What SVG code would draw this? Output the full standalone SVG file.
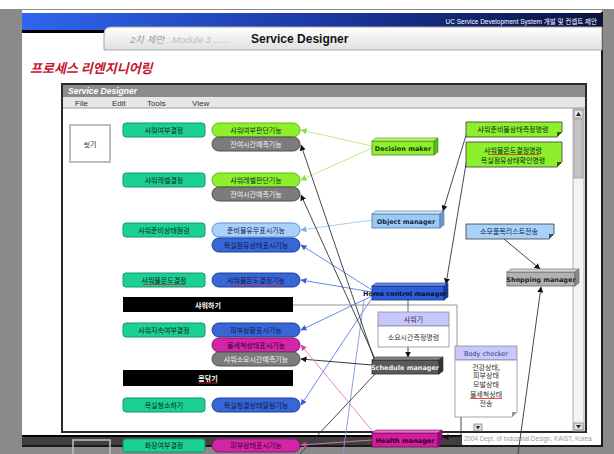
<svg xmlns="http://www.w3.org/2000/svg" width="614" height="454" viewBox="0 0 614 454">
<defs>
<style>
.k{font-family:"Noto Sans CJK KR","Noto Sans",sans-serif;font-size:7px;text-anchor:middle}
.en{font-family:"DejaVu Sans","Liberation Sans",sans-serif;font-weight:bold;font-size:6.5px;text-anchor:middle}
.teal{fill:#1ccf94;stroke:#0f9a68;stroke-width:1}
.lime{fill:#8eef2c;stroke:#5cb818;stroke-width:1}
.gry{fill:#7c7c7c;stroke:#505050;stroke-width:1}
.lbl{fill:#a9d2fa;stroke:#5d8fd0;stroke-width:1}
.blu{fill:#3766d6;stroke:#1f3f9a;stroke-width:1}
.mag{fill:#d424a8;stroke:#8e1470;stroke-width:1}
.dk{fill:#0c2a1e}
.wt{fill:#f2f2f2}
.nv{fill:#0c1a4a}
.spell{stroke:#e02828;stroke-width:0.8}
.cn{fill:none;stroke-width:0.9}
.note{stroke:#3a3a3a;stroke-width:0.8}
</style>
<linearGradient id="hdr" x1="0" x2="1" y1="0" y2="0">
<stop offset="0" stop-color="#2f66ee"/>
<stop offset="0.5" stop-color="#1b3aa6"/>
<stop offset="1" stop-color="#0a1240"/>
</linearGradient>
<linearGradient id="tab" x1="0" x2="0" y1="0" y2="1">
<stop offset="0" stop-color="#ffffff"/>
<stop offset="1" stop-color="#e0e0e0"/>
</linearGradient>
<marker id="ah-k" viewBox="0 0 6 6" refX="5.5" refY="3" markerWidth="6" markerHeight="6" orient="auto" markerUnits="userSpaceOnUse"><path d="M0,0 L6,3 L0,6 z" fill="#111"/></marker>
<marker id="ah-g" viewBox="0 0 6 6" refX="5.5" refY="3" markerWidth="6" markerHeight="6" orient="auto" markerUnits="userSpaceOnUse"><path d="M0,0 L6,3 L0,6 z" fill="#8edc3c"/></marker>
<marker id="ah-lb" viewBox="0 0 6 6" refX="5.5" refY="3" markerWidth="6" markerHeight="6" orient="auto" markerUnits="userSpaceOnUse"><path d="M0,0 L6,3 L0,6 z" fill="#7fb0e8"/></marker>
<marker id="ah-b" viewBox="0 0 6 6" refX="5.5" refY="3" markerWidth="6" markerHeight="6" orient="auto" markerUnits="userSpaceOnUse"><path d="M0,0 L6,3 L0,6 z" fill="#3a5fd0"/></marker>
<marker id="ah-p" viewBox="0 0 6 6" refX="5.5" refY="3" markerWidth="6" markerHeight="6" orient="auto" markerUnits="userSpaceOnUse"><path d="M0,0 L6,3 L0,6 z" fill="#d04aa8"/></marker>
</defs>

<!-- page backdrop and slide -->
<rect width="614" height="454" fill="#8a8a8a"/>
<rect width="614" height="9" fill="#ffffff"/>
<rect x="22" y="10" width="580" height="436" fill="#ffffff"/>
<line x1="602" y1="12" x2="602" y2="447" stroke="#1a1a1a" stroke-width="2"/>
<rect x="22" y="13" width="580" height="17" fill="url(#hdr)"/>
<text x="597" y="23.5" font-family="Liberation Sans, Noto Sans CJK KR, sans-serif" font-size="6.5" fill="#ffffff" text-anchor="end">UC Service Development System 개발 및 컨셉트 제안</text>
<rect x="22" y="30" width="84" height="3" fill="#000"/>
<path d="M104,50 L104,34 Q104,27 111,27 L602,27 L602,50 Z" fill="url(#tab)" stroke="#a8a8a8" stroke-width="1"/>
<text x="130" y="43" font-family="Liberation Sans, Noto Sans CJK KR, sans-serif" font-size="9.5" font-style="italic" fill="#9a9a9a">2차 제안 <tspan fill="#bdbdbd"> : Module 3 ......</tspan></text>
<text x="251" y="43" font-family="Liberation Sans, sans-serif" font-size="12" font-weight="bold" fill="#151515">Service Designer</text>
<text x="30" y="73" font-family="Noto Sans CJK KR, sans-serif" font-size="13" font-weight="bold" font-style="italic" fill="#c4162c">프로세스 리엔지니어링</text>

<!-- application window -->
<rect x="62" y="84" width="524" height="348" fill="#ffffff" stroke="#2a2a2a" stroke-width="2"/>
<rect x="63" y="85" width="522" height="12" fill="#8c8c8c"/>
<text x="68" y="94" font-family="Liberation Sans, sans-serif" font-size="8.5" font-weight="bold" font-style="italic" fill="#ffffff">Service Designer</text>
<rect x="63" y="97" width="522" height="11" fill="#e6e6e6"/>
<line x1="63" y1="108" x2="585" y2="108" stroke="#9a9a9a" stroke-width="1"/>
<g font-family="Liberation Sans, sans-serif" font-size="8" fill="#333">
<text x="75" y="105.5">File</text>
<text x="112" y="105.5">Edit</text>
<text x="147" y="105.5">Tools</text>
<text x="192" y="105.5">View</text>
</g>
<!-- scrollbar -->
<rect x="573" y="109" width="11" height="322" fill="#f3f3f3" stroke="#999" stroke-width="0.8"/>
<rect x="574" y="110" width="9" height="8" fill="#e2e2e2" stroke="#666" stroke-width="0.6"/>
<path d="M578.5,112 L576,116 L581,116 Z" fill="#222"/>
<rect x="574" y="119" width="9" height="59" fill="#c4c4c4" stroke="#888" stroke-width="0.6"/>
<rect x="574" y="423" width="9" height="7" fill="#e2e2e2" stroke="#666" stroke-width="0.6"/>
<path d="M576,425 L581,425 L578.5,428.5 Z" fill="#222"/>
<rect x="474" y="424" width="8" height="7" fill="#e2e2e2" stroke="#666" stroke-width="0.6"/>
<path d="M476,426 L480,426 L478,429.5 Z" fill="#222"/>

<!-- lower strip of the slide -->
<rect x="22" y="435" width="440" height="2" fill="#000"/>
<rect x="22" y="437" width="440" height="10" fill="#404040"/>
<rect x="22" y="445" width="580" height="2" fill="#1a1a1a"/>
<rect x="73" y="440" width="37" height="16" fill="none" stroke="#c0c0c0" stroke-width="1.5"/>
<text x="464" y="440.5" font-family="Liberation Sans, sans-serif" font-size="6.3" fill="#9a9a9a">2004 Dept. of Industrial Design, KAIST, Korea</text>

<!-- connectors -->
<g id="connectors">
<line class="cn" x1="372" y1="146" x2="301" y2="130" stroke="#b4ee74" marker-end="url(#ah-g)"/>
<line class="cn" x1="372" y1="148" x2="301" y2="180" stroke="#b4ee74" marker-end="url(#ah-g)"/>
<line class="cn" x1="372" y1="220" x2="301" y2="230" stroke="#9cc6f0" marker-end="url(#ah-lb)"/>
<line class="cn" x1="372" y1="290" x2="301" y2="245" stroke="#5a7ee0" marker-end="url(#ah-b)"/>
<line class="cn" x1="372" y1="292" x2="301" y2="280" stroke="#5a7ee0" marker-end="url(#ah-b)"/>
<line class="cn" x1="372" y1="296" x2="301" y2="330" stroke="#5a7ee0" marker-end="url(#ah-b)"/>
<line class="cn" x1="372" y1="298" x2="301" y2="405" stroke="#5a7ee0" marker-end="url(#ah-b)"/>
<line class="cn" x1="364" y1="300" x2="343" y2="454" stroke="#7f98d8"/>
<line class="cn" x1="374" y1="359" x2="301" y2="145" stroke="#333" marker-end="url(#ah-k)"/>
<line class="cn" x1="376" y1="361" x2="301" y2="195" stroke="#333" marker-end="url(#ah-k)"/>
<line class="cn" x1="372" y1="365" x2="301" y2="359" stroke="#222" marker-end="url(#ah-k)"/>
<line class="cn" x1="376" y1="373" x2="300" y2="454" stroke="#333"/>
<line class="cn" x1="467" y1="132" x2="443" y2="211" stroke="#333" marker-end="url(#ah-k)"/>
<line class="cn" x1="467" y1="158" x2="446" y2="284" stroke="#333" marker-end="url(#ah-k)"/>
<line class="cn" x1="504" y1="239" x2="540" y2="269" stroke="#333" marker-end="url(#ah-k)"/>
<line class="cn" x1="518" y1="454" x2="541" y2="287" stroke="#333" marker-end="url(#ah-k)"/>
<polyline class="cn" points="293,305 457,305 457,350" stroke="#8a8a8a"/>
<line class="cn" x1="408" y1="300" x2="408" y2="312" stroke="#555"/>
<line class="cn" x1="408" y1="347" x2="408" y2="357" stroke="#222" marker-end="url(#ah-k)"/>
<polyline class="cn" points="461,417 461,437 443,437" stroke="#333" marker-end="url(#ah-k)"/>
<line class="cn" x1="374" y1="433" x2="301" y2="345" stroke="#e07cc4" marker-end="url(#ah-p)"/>
<line class="cn" x1="372" y1="440" x2="301" y2="445" stroke="#e07cc4" marker-end="url(#ah-p)"/>
</g>

<!-- process box -->
<g id="wash">
<rect x="70" y="125" width="40" height="37" fill="#ffffff" stroke="#bdbdbd" stroke-width="2"/>
<text class="k" x="90" y="146.5" font-size="8" fill="#222">씻기</text>
</g>

<!-- decision steps -->
<g id="step-shower-yn"><rect class="teal" x="123" y="123" width="82" height="14" rx="3"/><text class="k dk" x="164" y="132.5">샤워여부결정</text></g>
<g id="step-shower-level"><rect class="teal" x="123" y="173" width="82" height="14" rx="3"/><text class="k dk" x="164" y="182.5">샤워레벨결정</text></g>
<g id="step-prep-check"><rect class="teal" x="123" y="223" width="82" height="14" rx="3"/><text class="k dk" x="164" y="232.5">샤워준비상태점검</text></g>
<g id="step-water-temp"><rect class="teal" x="123" y="273" width="82" height="14" rx="3"/><text class="k dk" x="164" y="282.5">샤워물온도결정</text><line class="spell" x1="143" y1="284.5" x2="185" y2="284.5"/></g>
<g id="step-continue"><rect class="teal" x="123" y="323" width="82" height="14" rx="3"/><text class="k dk" x="164" y="332.5">샤워지속여부결정</text></g>
<g id="step-bath-clean"><rect class="teal" x="123" y="398" width="82" height="14" rx="3"/><text class="k dk" x="164" y="407.5">욕실청소하기</text></g>
<g id="step-makeup"><rect class="teal" x="123" y="439" width="82" height="13" rx="3"/><text class="k dk" x="164" y="448">화장여부결정</text></g>

<!-- activity bars -->
<g id="bar-shower"><rect x="123" y="297" width="170" height="15" fill="#000"/><text class="k" x="208" y="307.5" fill="#fff" font-weight="bold">샤워하기</text></g>
<g id="bar-dry"><rect x="123" y="370" width="170" height="16" fill="#000"/><text class="k" x="208" y="381" fill="#fff" font-weight="bold">몸닦기</text><line class="spell" x1="198" y1="383" x2="218" y2="383"/></g>

<!-- functions -->
<g id="fn-shower-yn"><rect class="lime" x="212" y="123" width="88" height="14" rx="7"/><text class="k dk" x="256" y="132.5">샤워여부판단기능</text></g>
<g id="fn-time-1"><rect class="gry" x="212" y="137" width="88" height="14" rx="7"/><text class="k wt" x="256" y="146.5">잔여시간예측기능</text></g>
<g id="fn-shower-level"><rect class="lime" x="212" y="173" width="88" height="14" rx="7"/><text class="k dk" x="256" y="182.5">샤워레벨판단기능</text></g>
<g id="fn-time-2"><rect class="gry" x="212" y="187" width="88" height="14" rx="7"/><text class="k wt" x="256" y="196.5">잔여시간예측기능</text></g>
<g id="fn-supplies"><rect class="lbl" x="212" y="223" width="88" height="14" rx="7"/><text class="k nv" x="256" y="232.5">준비물유무표시기능</text></g>
<g id="fn-occupancy"><rect class="blu" x="212" y="238" width="88" height="14" rx="7"/><text class="k nv" x="256" y="247.5">욕실점유상태표시기능</text></g>
<g id="fn-water-temp"><rect class="blu" x="212" y="273" width="88" height="14" rx="7"/><text class="k nv" x="256" y="282.5">샤워물온도결정기능</text><line class="spell" x1="230" y1="284.5" x2="283" y2="284.5"/></g>
<g id="fn-skin"><rect class="blu" x="212" y="323" width="88" height="14" rx="7"/><text class="k nv" x="256" y="332.5">피부상황표시기능</text></g>
<g id="fn-wash-state"><rect class="mag" x="212" y="338" width="88" height="14" rx="7"/><text class="k" x="256" y="347.5" fill="#3a0030" font-size="6.5">물세척상태표시기능</text></g>
<g id="fn-time-3"><rect class="gry" x="212" y="352" width="88" height="14" rx="7"/><text class="k wt" x="256" y="361.5">샤워소요시간예측기능</text></g>
<g id="fn-bath-clean"><rect class="blu" x="212" y="398" width="88" height="14" rx="7"/><text class="k nv" x="256" y="407.5" font-size="6.5">욕실청결상태알림기능</text></g>
<g id="fn-skin-2"><rect class="mag" x="212" y="439" width="88" height="13" rx="6.5"/><text class="k" x="256" y="448" fill="#3a0030">피부상태표시기능</text></g>

<!-- managers -->
<g id="decision-maker">
<rect x="372" y="141" width="62" height="14" fill="#8eef2c" stroke="#4a8a18" stroke-width="0.8"/>
<polygon points="372,141 376,138 438,138 434,141" fill="#bdf77a" stroke="#4a8a18" stroke-width="0.6"/>
<polygon points="434,141 438,138 438,152 434,155" fill="#5cb818" stroke="#4a8a18" stroke-width="0.6"/>
<text class="en" x="403" y="150.5" fill="#1c3300">Decision maker</text>
</g>
<g id="object-manager">
<rect x="372" y="214" width="68" height="14" fill="#9ccaf2" stroke="#4a72a8" stroke-width="0.8"/>
<polygon points="372,214 376,211 444,211 440,214" fill="#cde5fb" stroke="#4a72a8" stroke-width="0.6"/>
<polygon points="440,214 444,211 444,225 440,228" fill="#6c9ccc" stroke="#4a72a8" stroke-width="0.6"/>
<text class="en" x="406" y="223.5" fill="#102850">Object manager</text>
</g>
<g id="home-control-manager">
<rect x="372" y="286" width="72" height="14" fill="#2d5ed8" stroke="#16307a" stroke-width="0.8"/>
<polygon points="372,286 376,283 448,283 444,286" fill="#6a8ee8" stroke="#16307a" stroke-width="0.6"/>
<polygon points="444,286 448,283 448,297 444,300" fill="#1c3c98" stroke="#16307a" stroke-width="0.6"/>
<text class="en" x="405" y="295.5" fill="#08102e">Home control manager</text>
</g>
<g id="shopping-manager">
<rect x="507" y="272" width="68" height="14" fill="#b2b2b2" stroke="#666" stroke-width="0.8"/>
<polygon points="507,272 511,269 579,269 575,272" fill="#d4d4d4" stroke="#666" stroke-width="0.6"/>
<polygon points="575,272 579,269 579,283 575,286" fill="#888" stroke="#666" stroke-width="0.6"/>
<text class="en" x="541" y="281.5" fill="#222">Shopping manager</text>
</g>
<g id="schedule-manager">
<rect x="372" y="360" width="67" height="14" fill="#5a5a5a" stroke="#2a2a2a" stroke-width="0.8"/>
<polygon points="372,360 376,357 443,357 439,360" fill="#8a8a8a" stroke="#2a2a2a" stroke-width="0.6"/>
<polygon points="439,360 443,357 443,371 439,374" fill="#333" stroke="#2a2a2a" stroke-width="0.6"/>
<text class="en" x="405" y="369.5" fill="#eeeeee">Schedule manager</text>
</g>
<g id="health-manager">
<rect x="372" y="433" width="66" height="14" fill="#d01e9c" stroke="#6e0c56" stroke-width="0.8"/>
<polygon points="372,433 376,430 442,430 438,433" fill="#e870c8" stroke="#6e0c56" stroke-width="0.6"/>
<polygon points="438,433 442,430 442,444 438,447" fill="#8e1070" stroke="#6e0c56" stroke-width="0.6"/>
<text class="en" x="405" y="442.5" fill="#2a0020">Health manager</text>
</g>

<!-- command notes -->
<g id="note-supplies">
<polygon class="note" points="466,122 562,122 562,132 557,137 466,137" fill="#8eef2c"/>
<polygon points="557,137 557,132 562,132" fill="#3a5a18"/>
<text class="k dk" x="513" y="132">샤워준비물상태측정명령</text>
</g>
<g id="note-temp">
<polygon class="note" points="466,142 562,142 562,162 557,167 466,167" fill="#8eef2c"/>
<polygon points="557,167 557,162 562,162" fill="#3a5a18"/>
<text class="k dk" x="513" y="152.5">샤워물온도결정명령</text>
<line class="spell" x1="488" y1="154.5" x2="539" y2="154.5"/>
<text class="k dk" x="513" y="162.5">욕실점유상태확인명령</text>
</g>
<g id="note-shopping">
<polygon class="note" points="466,224 554,224 554,234 549,239 466,239" fill="#a9d2fa"/>
<polygon points="549,239 549,234 554,234" fill="#3a5a80"/>
<text class="k nv" x="509" y="234">소모품목리스트전송</text>
</g>

<!-- shower head -->
<g id="shower-head">
<rect x="378" y="312" width="71" height="14" fill="#c8c8ff" stroke="#8a8a9a" stroke-width="0.8"/>
<text class="k" x="413.5" y="322" fill="#333">샤워기</text>
<rect x="378" y="326" width="71" height="21" fill="#ffffff" stroke="#8a8a9a" stroke-width="0.8"/>
<text class="k" x="413.5" y="339.5" fill="#333">소요시간측정명령</text>
</g>

<!-- body checker -->
<g id="body-checker">
<rect x="455" y="346" width="62" height="14" fill="#c8c8ff" stroke="#8a8a9a" stroke-width="0.8"/>
<text x="486" y="355.5" font-family="DejaVu Sans, sans-serif" font-size="6.5" fill="#2a3a7a" text-anchor="middle">Body checker</text>
<polygon points="455,360 517,360 517,412 512,417 455,417" fill="#ffffff" stroke="#8a8a9a" stroke-width="0.8"/>
<polygon points="512,417 512,412 517,412" fill="#9a9a9a"/>
<g fill="#333">
<text class="k" x="486" y="369.5">건강상태,</text>
<text class="k" x="486" y="378">피부상태</text>
<text class="k" x="486" y="386.5">모발상태</text>
<text class="k" x="486" y="396.5">물세척상태</text>
<text class="k" x="486" y="406">전송</text>
</g>
<line class="spell" x1="470" y1="398.5" x2="502" y2="398.5"/>
</g>
</svg>
